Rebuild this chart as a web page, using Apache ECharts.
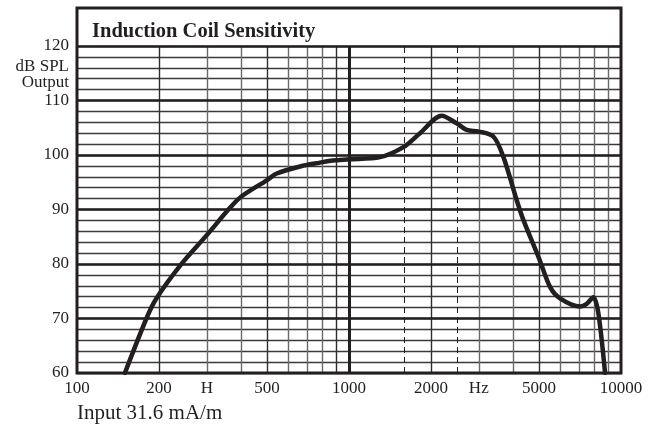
<!DOCTYPE html>
<html>
<head>
<meta charset="utf-8">
<script src="https://cdn.jsdelivr.net/npm/echarts@6/dist/echarts.min.js"></script>
<style>
html,body{margin:0;padding:0;background:#fff;}
#c{width:652px;height:427px;}
</style>
</head>
<body>
<div id="c"></div>
<script>
// Frequency (Hz) and output (dB SPL)
var freqs = [150, 180, 196, 243, 300, 365, 400, 500, 542, 661, 782, 870, 1000, 1300, 1590, 1824, 2192, 2489, 2709, 3000, 3393, 3692, 4136, 4375, 5000, 5483, 5966, 7070, 7480, 7912, 8254, 8737];
var output = [60, 70, 73.7, 80.1, 85.3, 90.3, 92.3, 95.4, 96.6, 97.9, 98.6, 99.0, 99.2, 99.6, 101.5, 104, 107.2, 105.8, 104.6, 104.3, 103.4, 99.7, 91.7, 88.1, 81, 75.8, 73.7, 72.2, 72.7, 73.9, 71, 60];

// Axis ticks
var xTickValues = [100, 200, 300, 500, 1000, 2000, 3000, 5000, 10000];
var xTickLabels = ['100', '200', 'H', '500', '1000', '2000', 'Hz', '5000', '10000'];
var xGridMinor = [300, 400, 600, 700, 800, 3000, 4000, 6000, 7000, 8000, 9000];
var xGridDark = [200, 500, 900, 2000, 5000];
var xGridMajor = [1000];
var xGridDashed = [1600, 2500];
var yMajor = [70, 80, 90, 100, 110, 120];
var yLabels = [60, 70, 80, 90, 100, 110, 120];

var title = 'Induction Coil Sensitivity';
var yUnit = ['dB SPL', 'Output'];
var inputNote = 'Input 31.6 mA/m';

var FONT = '"Liberation Serif", "DejaVu Serif", serif';
var INK = '#231f20';

var chart = echarts.init(document.getElementById('c'), null, {renderer: 'canvas'});

function vLines(vals, color, width, type) {
  return vals.map(function (v) {
    return {xAxis: v, lineStyle: {color: color, width: width, type: type || 'solid'}};
  });
}
function hLines(vals, color, width) {
  return vals.map(function (v) {
    return {yAxis: v, lineStyle: {color: color, width: width, type: 'solid'}};
  });
}

var gridMarks = []
  .concat(vLines(xGridMinor, '#6a6a6a', 1.4))
  .concat(vLines(xGridDark, '#2f2f2f', 1.4))
  .concat(vLines(xGridDashed, INK, 1, [6, 4]))
  .concat(vLines(xGridMajor, INK, 3))
  .concat(hLines(yMajor, INK, 2.6));

var option = {
  animation: false,
  backgroundColor: '#fff',
  grid: {left: 77, right: 31, top: 46, bottom: 54, containLabel: false},
  xAxis: {
    type: 'log',
    logBase: 10,
    min: 100,
    max: 10000,
    axisLine: {show: false},
    axisTick: {show: false},
    splitLine: {show: false},
    axisLabel: {
      customValues: xTickValues,
      margin: 7,
      color: INK,
      fontFamily: FONT,
      fontSize: 17,
      formatter: function (v) {
        var i = xTickValues.indexOf(Math.round(v));
        return i >= 0 ? xTickLabels[i] : '';
      }
    }
  },
  yAxis: {
    type: 'value',
    min: 60,
    max: 120,
    interval: 2,
    axisLine: {show: false},
    axisTick: {show: false},
    splitLine: {show: true, lineStyle: {color: '#3a3a3a', width: 1.3}},
    axisLabel: {
      margin: 8,
      color: INK,
      fontFamily: FONT,
      fontSize: 17,
      formatter: function (v) {
        return yLabels.indexOf(v) >= 0 ? String(v) : '';
      }
    }
  },
  title: {
    text: title,
    left: 87,
    top: 16,
    textStyle: {fontFamily: FONT, fontWeight: 'bold', fontSize: 20.5, color: INK}
  },
  graphic: [
    {
      type: 'rect',
      shape: {x: 77, y: 8, width: 544, height: 365},
      style: {fill: null, stroke: INK, lineWidth: 3},
      z: 100
    },
    {
      type: 'text',
      style: {
        text: yUnit.join('\n'),
        x: 69, y: 59,
        align: 'right',
        verticalAlign: 'top',
        font: '17px ' + FONT,
        lineHeight: 16,
        fill: INK
      }
    },
    {
      type: 'text',
      style: {
        text: inputNote,
        x: 77, y: 413,
        align: 'left',
        verticalAlign: 'middle',
        font: '21px ' + FONT,
        fill: INK
      }
    }
  ],
  series: [
    {
      type: 'line',
      z: 1,
      data: [[100, 60]],
      symbol: 'none',
      silent: true,
      lineStyle: {opacity: 0},
      markLine: {
        silent: true,
        symbol: ['none', 'none'],
        label: {show: false},
        animation: false,
        data: gridMarks
      }
    },
    {
      type: 'line',
      z: 5,
      data: freqs.map(function (f, i) { return [f, output[i]]; }),
      smooth: 0.3,
      symbol: 'none',
      clip: true,
      lineStyle: {color: INK, width: 4.5, cap: 'round', join: 'round'}
    }
  ]
};
chart.setOption(option);
</script>
</body>
</html>
